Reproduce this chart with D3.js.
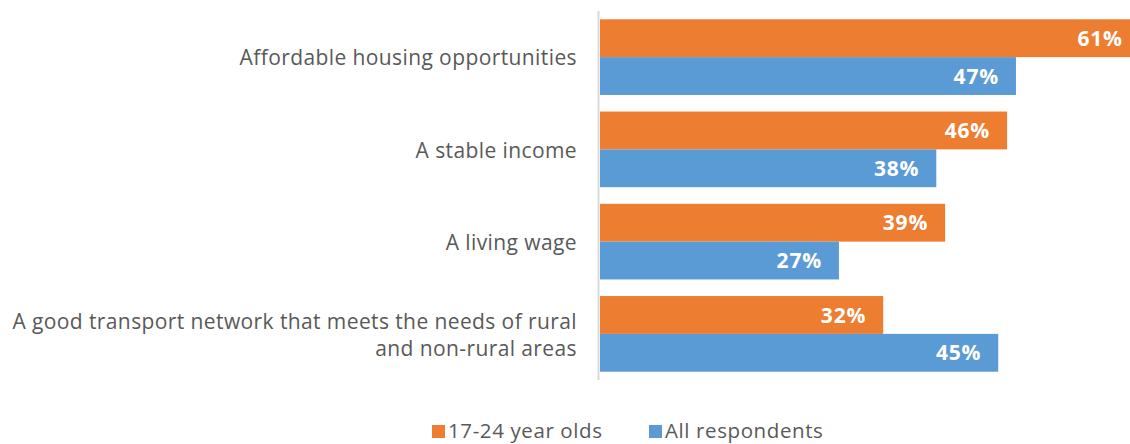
<!DOCTYPE html>
<html><head><meta charset="utf-8">
<script src="https://cdn.jsdelivr.net/npm/d3@7"></script>
<style>body{margin:0;background:#fff}svg{display:block}</style>
</head><body>
<svg id="chart" width="1130" height="444"></svg>
<script>
const categories = ["Affordable housing opportunities", "A stable income", "A living wage", "A good transport network that meets the needs of rural|and non-rural areas"];
const seriesNames = ["17-24 year olds", "All respondents"];
const youth = [61, 46, 39, 32];
const allResp = [47, 38, 27, 45];
const colors = ["#ED7D31", "#5B9BD5"];

const FONT = "'Open Sans', 'Liberation Sans', Arial, sans-serif";
const svg = d3.select("#chart");
const x0 = 600;
const x = d3.scaleLinear().domain([0, 100]).range([x0, x0 + 885]);
const y = d3.scaleBand().domain(categories).range([11, 380]).paddingInner(0.18).paddingOuter(0.09);
const sub = d3.scaleBand().domain(seriesNames).range([0, y.bandwidth()]);

const rows = categories.map((c, i) => ({c, vals: [youth[i], allResp[i]]}));

const g = svg.append("g");
rows.forEach(r => {
  r.vals.forEach((v, j) => {
    const yy = y(r.c) + sub(seriesNames[j]);
    g.append("rect").attr("x", x(0)).attr("y", yy).attr("width", x(v) - x(0)).attr("height", sub.bandwidth()).attr("fill", colors[j]);
    g.append("text").attr("x", x(v) - 17).attr("y", yy + sub.bandwidth() / 2).attr("dy", "0.36em")
      .attr("text-anchor", "end").attr("fill", "#fff").attr("font-family", FONT)
      .attr("font-weight", "bold").attr("font-size", 21).attr("letter-spacing", 0.8).text(v + "%");
  });
  const lines = r.c.split("|");
  const cy = y(r.c) + y.bandwidth() / 2;
  const t = g.append("text").attr("text-anchor", "end").attr("fill", "#595959")
    .attr("font-family", FONT).attr("font-size", 21).attr("letter-spacing", 0.4);
  lines.forEach((l, k) => {
    t.append("tspan").attr("x", 577).attr("y", cy + 1 + (k - (lines.length - 1) / 2) * 27).attr("dy", "0.35em").text(l);
  });
});

svg.append("line").attr("x1", x(0) - 1.5).attr("x2", x(0) - 1.5).attr("y1", y.range()[0]).attr("y2", y.range()[1])
  .attr("stroke", "#d9d9d9").attr("stroke-width", 2);

const leg = svg.append("g").attr("font-family", FONT).attr("font-size", 20.5).attr("letter-spacing", 0.6).attr("fill", "#595959");
const legX = [432, 649];
seriesNames.forEach((s, j) => {
  leg.append("rect").attr("x", legX[j]).attr("y", 425).attr("width", 13).attr("height", 13).attr("fill", colors[j]);
  leg.append("text").attr("x", legX[j] + 16).attr("y", 431).attr("dy", "0.35em").text(s);
});
</script>
</body></html>
